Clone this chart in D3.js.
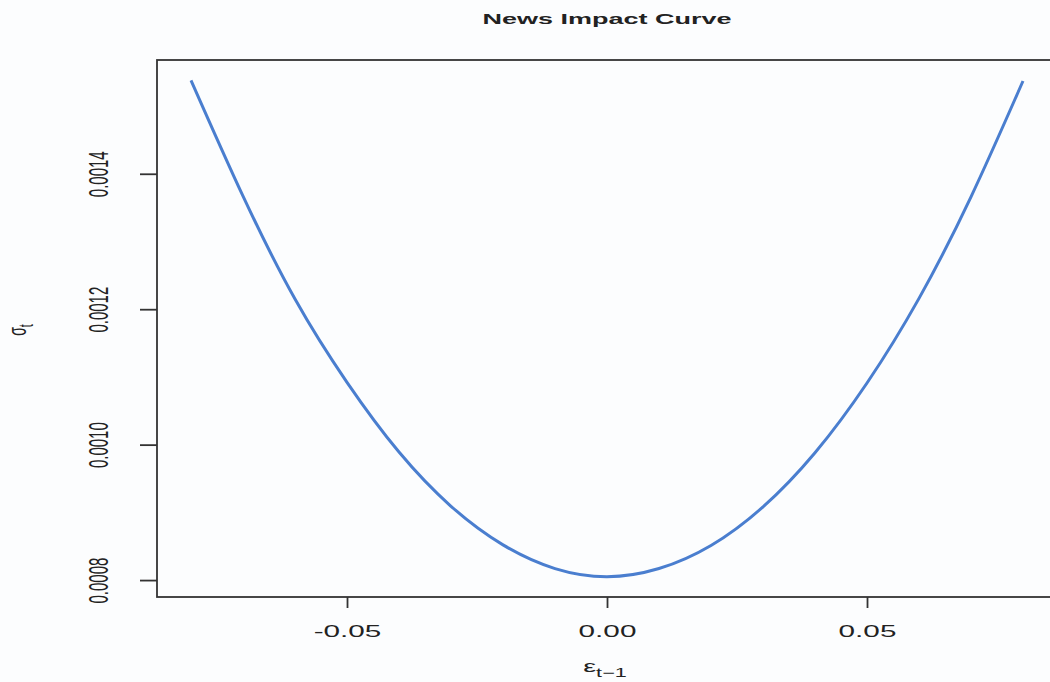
<!DOCTYPE html>
<html>
<head>
  <meta charset="utf-8">
  <title>News Impact Curve</title>
  <style>
    body { margin: 0; background: #fcfdfe; }
    text { font-family: "Liberation Sans", Arial, sans-serif; fill: #222; }
  </style>
</head>
<body>
  <svg id="main" width="1050" height="682"></svg>

  <script src="https://cdn.jsdelivr.net/npm/d3@7/dist/d3.min.js"></script>
  <script>
    // shock values (x) and conditional volatility (y)
    const shocks = [-0.08, -0.07, -0.06, -0.05, -0.04, -0.03, -0.02, -0.01, 0.00,
                    0.01, 0.02, 0.03, 0.04, 0.05, 0.06, 0.07, 0.08]
    const sigma = [0.001538, 0.001367, 0.001215, 0.001092, 0.000989, 0.000909, 0.000852, 0.000817, 0.000805,
                   0.000817, 0.000851, 0.000908, 0.000988, 0.001091, 0.001216, 0.001366, 0.001537]
    const xTicks = [-0.05, 0, 0.05]
    const yTicks = [0.0008, 0.0010, 0.0012, 0.0014]

    const svg = d3.select('#main')
    const margin = { top: 60, left: 157, bottom: 597, right: 1058 }
    const stretch = 1.8   // the reference is squashed sideways

    const x = d3.scaleLinear().domain([-0.08654, 0.08673]).range([margin.left, margin.right])
    const y = d3.scaleLinear().domain([0.000775, 0.001568]).range([margin.bottom, margin.top])

    // frame
    svg.append('rect')
      .attr('x', x.range()[0]).attr('y', y.range()[1])
      .attr('width', x.range()[1] - x.range()[0])
      .attr('height', y.range()[0] - y.range()[1])
      .attr('fill', 'none')
      .attr('stroke', '#333')
      .attr('stroke-width', 1.8)

    // x axis
    const gx = svg.append('g')
      .attr('transform', `translate(0,${margin.bottom})`)
      .call(d3.axisBottom(x).tickValues(xTicks).tickSize(11).tickSizeOuter(0).tickFormat(d3.format('.2f')))
    gx.select('.domain').remove()
    gx.selectAll('line').attr('stroke', '#333').attr('stroke-width', 1.8)
    gx.selectAll('text')
      .attr('y', 40).attr('dy', 0)
      .attr('font-size', 16.5)
      .attr('fill', '#333')
      .attr('transform', `scale(${stretch},1)`)
      .text(d => d3.format('.2f')(d).replace('−', '-'))

    // y axis
    const gy = svg.append('g')
      .attr('transform', `translate(${margin.left},0)`)
      .call(d3.axisLeft(y).tickValues(yTicks).tickSize(17).tickSizeOuter(0).tickFormat(d3.format('.4f')))
    gy.select('.domain').remove()
    gy.selectAll('line').attr('stroke', '#333').attr('stroke-width', 1.8)
    gy.selectAll('text')
      .attr('x', 0).attr('y', 0).attr('dy', 0)
      .attr('text-anchor', 'middle')
      .attr('font-size', 15)
      .attr('fill', '#333')
      .attr('transform', `translate(-49,0) scale(${stretch},1) rotate(-90)`)

    // curve
    const pts = shocks.map((s, i) => [s, sigma[i]])
    svg.append('path')
      .datum(pts)
      .attr('fill', 'none')
      .attr('stroke', '#4a7ecf')
      .attr('stroke-width', 3)
      .attr('d', d3.line().x(d => x(d[0])).y(d => y(d[1])).curve(d3.curveNatural))

    // title
    svg.append('text')
      .attr('transform', `translate(607,24) scale(${stretch},1)`)
      .attr('text-anchor', 'middle')
      .attr('font-size', 15)
      .attr('font-weight', 'bold')
      .text('News Impact Curve')

    // axis titles
    const xl = svg.append('text')
      .attr('transform', `translate(605,672) scale(${stretch},1)`)
      .attr('text-anchor', 'middle')
      .attr('font-size', 16)
      .attr('fill', '#333')
    xl.append('tspan').text('ε')
    xl.append('tspan').attr('dy', 5).attr('font-size', 12).text('t−1')

    const yl = svg.append('text')
      .attr('transform', `translate(26,330) scale(${stretch},1) rotate(-90)`)
      .attr('text-anchor', 'middle')
      .attr('font-size', 14)
      .attr('fill', '#333')
    yl.append('tspan').text('σ')
    yl.append('tspan').attr('dy', 4).attr('font-size', 11).text('t')
  </script>
</body>
</html>
